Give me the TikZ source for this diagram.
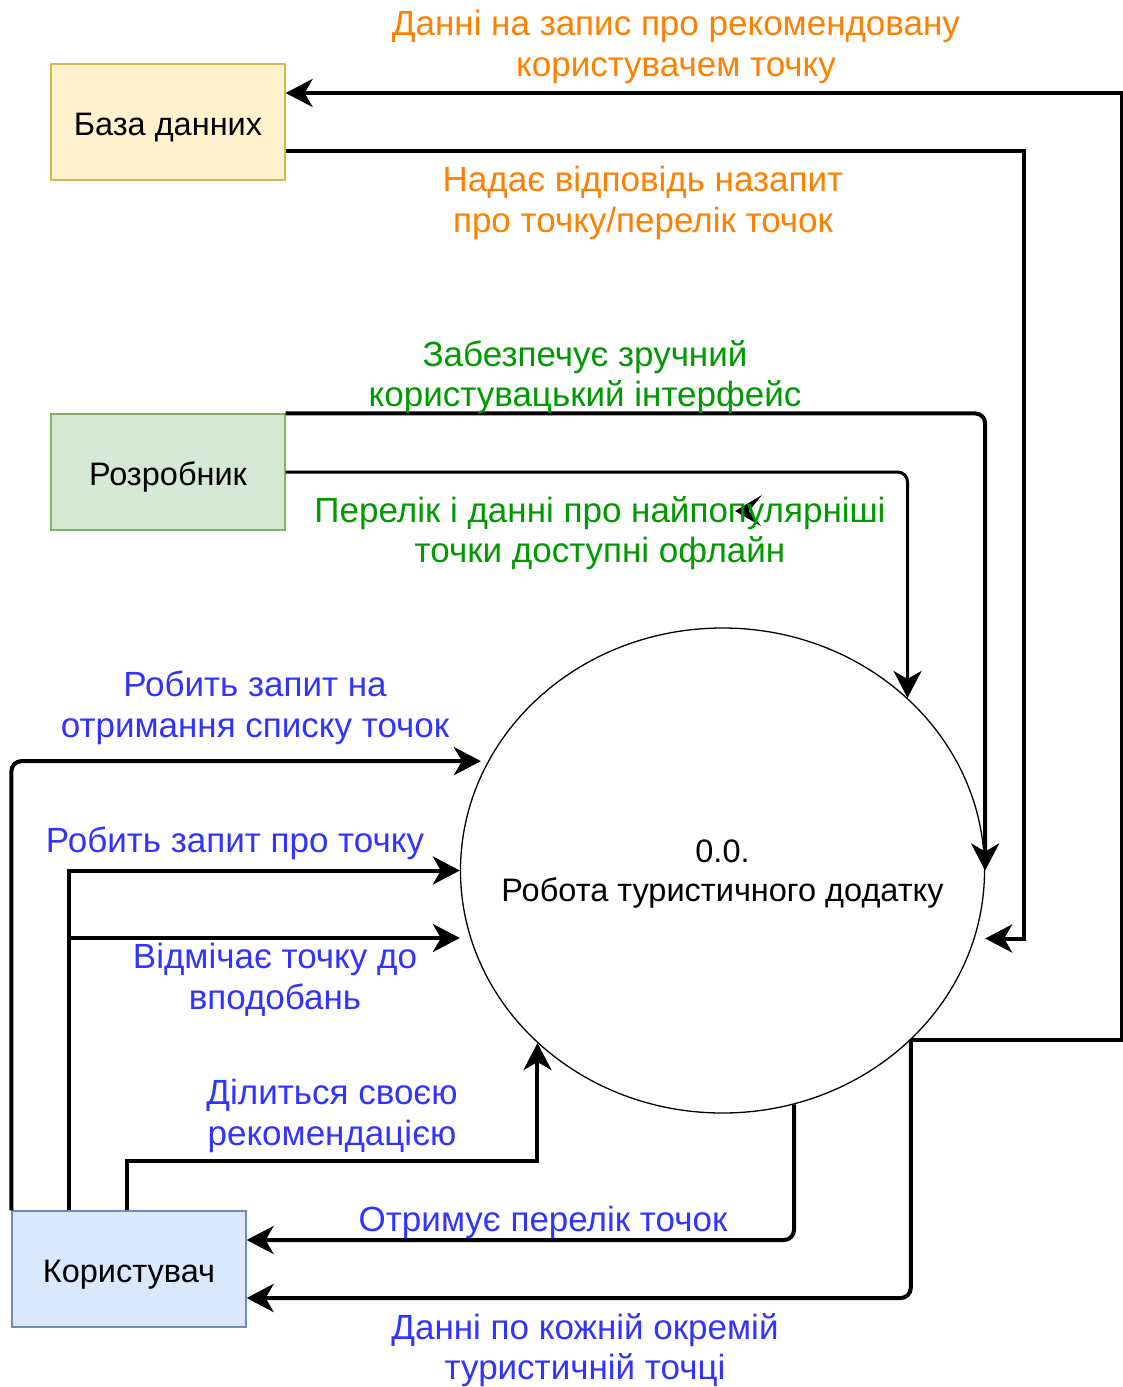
\documentclass[tikz,border=0pt]{standalone}
\usepackage{fontspec}
\setmainfont{Liberation Sans}
\usetikzlibrary{arrows.meta,shapes.geometric}
\definecolor{dbfill}{HTML}{FFF2CC}
\definecolor{dbline}{HTML}{D6B656}
\definecolor{devfill}{HTML}{D5E8D4}
\definecolor{devline}{HTML}{82B366}
\definecolor{userfill}{HTML}{DAE8FC}
\definecolor{userline}{HTML}{6C8EBF}
\definecolor{lblorange}{HTML}{FF8000}
\definecolor{lblgreen}{HTML}{009900}
\definecolor{lblblue}{HTML}{3333FF}
\begin{document}
\begin{tikzpicture}[x=1pt,y=-1pt,
  entity/.style={draw, line width=1.2pt, minimum width=234pt, minimum height=116pt,
    inner sep=0pt, text depth=0pt, text height=26pt, font=\fontsize{32.5}{38}\selectfont},
  process/.style={ellipse, draw, line width=1.3pt, minimum width=524pt,
    minimum height=485pt, inner sep=0pt},
  proctext/.style={align=center, inner sep=0pt, font=\fontsize{32.5}{39}\selectfont},
  flow/.style={line width=4pt, -{Stealth[length=27pt,width=28pt,inset=8pt]}},
  lbl/.style={align=center, inner sep=0pt, font=\fontsize{35}{40.5}\selectfont},
]
\useasboundingbox (0,0) rectangle (1123,1387);

% external entities and the process
\node[entity, fill=dbfill, draw=dbline] (db) at (168,122) {База данних};
\node[entity, fill=devfill, draw=devline] (dev) at (168,472) {Розробник};
\node[entity, fill=userfill, draw=userline] (user) at (129,1269) {Користувач};
\node[process] (proc) at (722.5,870.5) {};
\node[proctext] (procname) at ([yshift=-4pt]proc.center) {0.0.\\Робота туристичного додатку};

% helper points
\path ([xshift=58pt]user.north west) coordinate (uA);
\path ([xshift=116pt]user.north west) coordinate (uB);
\path ([yshift=-67.5pt]proc.west) coordinate (pLike);

% database flows
\draw[flow] (proc.-42.3) -- ++(211,0) |- ([yshift=29pt]db.east);
\draw[flow] ([yshift=-29pt]db.east) -- ++(738,0) |- ([yshift=-68pt]proc.east);

% developer flows
\draw[flow, rounded corners=10pt] (dev.north east) -| (proc.east);
\draw[flow, line width=3pt, rounded corners=10pt] (dev.east) -| (proc.43);
\fill (735,511) -- (762,495) -- (749,511) -- (761,526) -- cycle;

% user flows
\draw[flow, rounded corners=10pt] (user.north west) |- ([xshift=-7pt]proc.155.5);
\draw[flow] (uA) |- (proc.west);
\draw[flow] (uA |- pLike) -- (pLike);
\draw[flow] (uB) -- ++(0,-49) -| (proc.-137.3);
\draw[flow, rounded corners=10pt] (proc.-73.9) |- ([yshift=29pt]user.east);
\draw[flow, rounded corners=10pt] (proc.-42.3) |- ([yshift=-29pt]user.east);

% flow labels
\node[lbl, text=lblorange] (l1) at (676,47) {Данні на запис про рекомендовану\\користувачем точку};
\node[lbl, text=lblorange] (l2) at (643,203) {Надає відповідь назапит\\про точку/перелік точок};
\node[lbl, text=lblgreen] (l3) at (585,377) {Забезпечує зручний\\користувацький інтерфейс};
\node[lbl, text=lblgreen] (l4) at (600,533) {Перелік і данні про найпопулярніші\\точки доступні офлайн};
\node[lbl, text=lblblue] (l5) at (255,708) {Робить запит на\\отримання списку точок};
\node[lbl, text=lblblue] (l6) at (235,843) {Робить запит про точку};
\node[lbl, text=lblblue] (l7) at (275,980) {Відмічає точку до\\вподобань};
\node[lbl, text=lblblue] (l8) at (332,1116) {Ділиться своєю\\рекомендацією};
\node[lbl, text=lblblue] (l9) at (543,1222) {Отримує перелік точок};
\node[lbl, text=lblblue] (l10) at (585,1350) {Данні по кожній окремій\\туристичній точці};
\end{tikzpicture}
\end{document}
